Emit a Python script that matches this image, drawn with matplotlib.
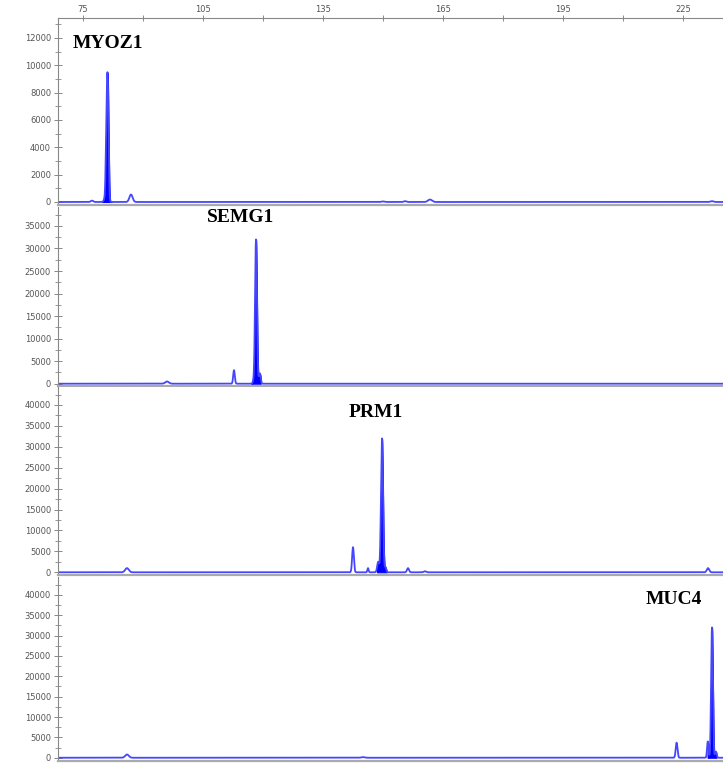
import numpy as np
import matplotlib
matplotlib.use("Agg")
import matplotlib.pyplot as plt
from matplotlib.ticker import MultipleLocator

# size axis (bp) shown on top of the first panel
size_ticks = [75, 105, 135, 165, 195, 225]
size_range = (68.75, 235)

# one panel per gene: name, label position, y-axis top, tick steps
genes = ["MYOZ1", "SEMG1", "PRM1", "MUC4"]
label_x = [72.5, 106, 141.5, 215.75]
label_y = [11630, 36770, 38090, 38780]
y_top = [13460, 39200, 44300, 44380]
y_bottom = [-220, -510, -645, -800]
y_major = [2000, 5000, 5000, 5000]
y_minor = [1000, 2500, 2500, 2500]

# peaks: (size, height, width)
# the first entry of each list is the called (filled) peak
peaks_myoz1 = [(81.0, 8000, 0.24), (81.3, 4000, 0.18), (80.3, 150, 0.2),
               (77.25, 100, 0.3), (87.0, 550, 0.4), (150.0, 40, 0.4),
               (155.5, 60, 0.3), (161.75, 180, 0.5), (232.25, 60, 0.4)]
peaks_semg1 = [(118.25, 32000, 0.24), (119.2, 2300, 0.22), (117.6, 500, 0.2),
               (112.75, 3000, 0.2), (96.0, 500, 0.45)]
peaks_prm1 = [(149.75, 32000, 0.25), (148.8, 2500, 0.25), (150.6, 1200, 0.2),
              (142.5, 6000, 0.22), (146.25, 1000, 0.15), (156.25, 1000, 0.25),
              (160.5, 250, 0.3), (86.0, 1000, 0.45), (231.25, 1000, 0.3)]
peaks_muc4 = [(232.25, 32000, 0.22), (231.2, 4000, 0.18), (233.2, 1500, 0.2),
              (223.4, 3700, 0.22), (86.0, 800, 0.45), (145.0, 150, 0.4)]
all_peaks = [peaks_myoz1, peaks_semg1, peaks_prm1, peaks_muc4]

# panel layout in pixels (top, bottom) of a 723x763 figure
W, H = 723, 763
panel_px = [(18, 205), (207, 386), (387, 575), (577, 761)]
left_px = 58

fig = plt.figure(figsize=(W / 100, H / 100), dpi=100)
x = np.arange(size_range[0], size_range[1], 0.01)

for i, gene in enumerate(genes):
    top, bot = panel_px[i]
    ax = fig.add_axes([left_px / W, (H - bot) / H, 1 - left_px / W, (bot - top) / H])

    y = np.zeros_like(x)
    for pos, h, w in all_peaks[i]:
        y += h * np.exp(-0.5 * ((x - pos) / w) ** 2)

    main_pos, _, main_w = all_peaks[i][0]
    near = np.abs(x - main_pos) < 5 * main_w
    ax.fill_between(x, 0, y, where=near, color="#0000ff", lw=0.8)
    ax.plot(x, y, color="#4646ff", lw=1.3)

    ax.set_xlim(*size_range)
    ax.set_ylim(y_bottom[i], y_top[i])

    ax.yaxis.set_major_locator(MultipleLocator(y_major[i]))
    ax.yaxis.set_minor_locator(MultipleLocator(y_minor[i]))
    ax.tick_params(axis="y", which="major", direction="inout", length=6,
                   width=0.7, color="#888888", labelsize=6, labelcolor="#555555", pad=2)
    ax.tick_params(axis="y", which="minor", direction="inout", length=4,
                   width=0.6, color="#888888")

    if i == 0:
        ax.xaxis.tick_top()
        ax.set_xticks(size_ticks)
        ax.xaxis.set_minor_locator(MultipleLocator(15))
        ax.tick_params(axis="x", which="both", direction="inout", length=4,
                       width=0.7, color="#888888", labelsize=6,
                       labelcolor="#555555", pad=1)
    else:
        ax.set_xticks([])
        ax.xaxis.set_minor_locator(plt.NullLocator())

    ax.spines["right"].set_visible(False)
    ax.spines["top"].set_visible(i == 0)
    ax.spines["top"].set_color("#888888")
    ax.spines["left"].set_color("#888888")
    ax.spines["bottom"].set_color("#aaaaaa")
    ax.spines["bottom"].set_linewidth(1.6)

    ax.text(label_x[i], label_y[i], gene, family="Liberation Serif",
            fontweight="bold", fontsize=14, va="center", ha="left")

fig.savefig("out.png", dpi=100)
